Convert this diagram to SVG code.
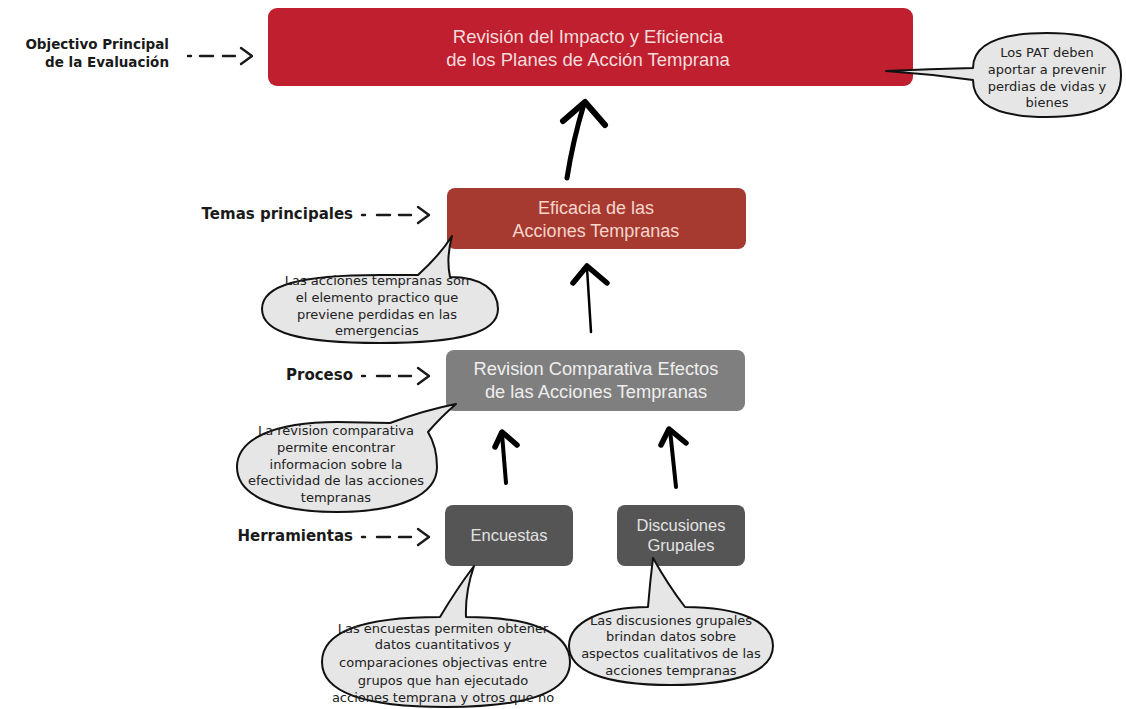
<svg xmlns="http://www.w3.org/2000/svg" width="1126" height="709" viewBox="0 0 1126 709">
<defs>
<style>
.lbl{font-family:"DejaVu Sans",Verdana,sans-serif;font-weight:bold;font-size:15px;fill:#1a1a1a;text-anchor:end}
.lbs{font-size:13.5px}
.dash{stroke:#1a1a1a;stroke-width:2.4;fill:none;stroke-linecap:round;stroke-linejoin:round}
.bt{font-family:"Liberation Sans",Arial,sans-serif;text-anchor:middle}
.bub{fill:#e6e6e6;stroke:#111;stroke-width:2;stroke-linejoin:round}
.bx{font-family:"DejaVu Sans",Verdana,sans-serif;font-size:13px;fill:#222;text-anchor:middle}
.arr{stroke:#000;fill:none;stroke-linecap:round;stroke-linejoin:round}
</style>
</defs>
<rect width="1126" height="709" fill="#ffffff"/>

<g id="labels">
<text class="lbl lbs" x="169" y="49">Objectivo Principal</text>
<text class="lbl lbs" x="169" y="67">de la Evaluación</text>
<text class="lbl" x="353" y="219">Temas principales</text>
<text class="lbl" x="353" y="380">Proceso</text>
<text class="lbl" x="353" y="541">Herramientas</text>
</g>

<g id="label-arrows">
<path class="dash" d="M188,56 L191,56 M200,56 L213,56 M223,56 L235,56 M241,48 L252,56 L241,64"/>
<path class="dash" d="M362,215 L365,215 M377,215 L390,215 M399,215 L411,215 M418,207 L429,215 L418,223"/>
<path class="dash" d="M362,376 L365,376 M377,376 L390,376 M399,376 L411,376 M418,368 L429,376 L418,384"/>
<path class="dash" d="M362,537 L365,537 M377,537 L390,537 M399,537 L411,537 M418,529 L429,537 L418,545"/>
</g>

<g id="node-objetivo">
<rect x="268" y="8" width="645" height="78" rx="9" fill="#bf1f2f"/>
<text class="bt" x="588" y="43" font-size="18.5" fill="#f6dcdc">Revisión del Impacto y Eficiencia</text>
<text class="bt" x="588" y="66" font-size="18.5" fill="#f6dcdc">de los Planes de Acción Temprana</text>
</g>

<g id="node-eficacia">
<rect x="447" y="188" width="299" height="61" rx="8" fill="#a63a31"/>
<text class="bt" x="596" y="214" font-size="18" fill="#f7d6cb">Eficacia de las</text>
<text class="bt" x="596" y="237" font-size="18" fill="#f7d6cb">Acciones Tempranas</text>
</g>

<g id="node-revision">
<rect x="446" y="350" width="299" height="61" rx="8" fill="#7f7f7f"/>
<text class="bt" x="596" y="375" font-size="18.3" fill="#eeeeee">Revision Comparativa Efectos</text>
<text class="bt" x="596" y="398" font-size="18.3" fill="#eeeeee">de las Acciones Tempranas</text>
</g>

<g id="node-encuestas">
<rect x="445" y="505" width="128" height="61" rx="8" fill="#555555"/>
<text class="bt" x="509" y="541" font-size="16.5" fill="#e2e2e2">Encuestas</text>
</g>

<g id="node-discusiones">
<rect x="617" y="505" width="128" height="61" rx="8" fill="#555555"/>
<text class="bt" x="681" y="531" font-size="16.5" fill="#e2e2e2">Discusiones</text>
<text class="bt" x="681" y="551" font-size="16.5" fill="#e2e2e2">Grupales</text>
</g>

<g id="connectors">
<path class="arr" stroke-width="5" d="M567,178 Q573,140 584,104"/>
<path class="arr" stroke-width="6" d="M563,121 L585,102 L605,125"/>
<path class="arr" stroke-width="2.5" d="M591,332 L587,268"/>
<path class="arr" stroke-width="5.5" d="M573,283 L587,266 L607,283"/>
<path class="arr" stroke-width="4" d="M506,483 L502,434"/>
<path class="arr" stroke-width="5.5" d="M495,447 L502,432 L517,445"/>
<path class="arr" stroke-width="4" d="M676,487 L670,430"/>
<path class="arr" stroke-width="5.5" d="M661,445 L669,429 L686,443"/>
</g>

<g id="callout-pat">
<path class="bub" d="M973,80 C973,104 995,117 1047,117 C1099,117 1121,104 1121,75 C1121,46 1099,33 1047,33 C995,33 973,46 973,68 Q930,69 886,71 Q930,74 973,80 Z"/>
<text class="bx" x="1047" y="57" font-size="12.5">Los PAT deben</text>
<text class="bx" x="1047" y="74" font-size="12.5">aportar a prevenir</text>
<text class="bx" x="1047" y="91" font-size="12.5">perdias de vidas y</text>
<text class="bx" x="1047" y="107" font-size="12.5">bienes</text>
</g>

<g id="callout-acciones">
<path class="bub" d="M450,277 C482,277 498,290 498,309 C498,333 460,343 380,343 C300,343 262,333 262,309 C262,285 300,275 380,275 L418,275 Q440,255 452,236 Q446,258 450,277 Z"/>
<text class="bx" x="377" y="285">Las acciones tempranas son</text>
<text class="bx" x="377" y="302">el elemento practico que</text>
<text class="bx" x="377" y="319">previene perdidas en las</text>
<text class="bx" x="377" y="335">emergencias</text>
</g>

<g id="callout-revision">
<path class="bub" d="M428,432 C434,442 437,455 437,467 C437,495 400,512 337,512 C274,512 237,495 237,467 C237,439 274,422 337,422 L390,423 Q425,410 456,404 Q440,418 428,432 Z"/>
<text class="bx" x="336" y="435">La revision comparativa</text>
<text class="bx" x="336" y="452">permite encontrar</text>
<text class="bx" x="336" y="469">informacion sobre la</text>
<text class="bx" x="336" y="485">efectividad de las acciones</text>
<text class="bx" x="336" y="502">tempranas</text>
</g>

<g id="callout-encuestas">
<path class="bub" d="M466,617 C530,617 570,632 570,662 C570,692 530,707 446,707 C362,707 322,692 322,662 C322,632 362,617 440,617 Q456,590 474,566 Q465,592 466,617 Z"/>
<text class="bx" x="443" y="633">Las encuestas permiten obtener</text>
<text class="bx" x="443" y="649">datos cuantitativos y</text>
<text class="bx" x="443" y="667">comparaciones objectivas entre</text>
<text class="bx" x="443" y="685">grupos que han ejecutado</text>
<text class="bx" x="443" y="702">acciones temprana y otros que no</text>
</g>

<g id="callout-discusiones">
<path class="bub" d="M685,607 C740,607 773,622 773,646 C773,670 740,685 671,685 C602,685 569,670 569,646 C569,622 602,607 648,607 Q650,582 653,558 Q668,585 685,607 Z"/>
<text class="bx" x="671" y="625">Las discusiones grupales</text>
<text class="bx" x="671" y="641">brindan datos sobre</text>
<text class="bx" x="671" y="658">aspectos cualitativos de las</text>
<text class="bx" x="671" y="675">acciones tempranas</text>
</g>
</svg>
